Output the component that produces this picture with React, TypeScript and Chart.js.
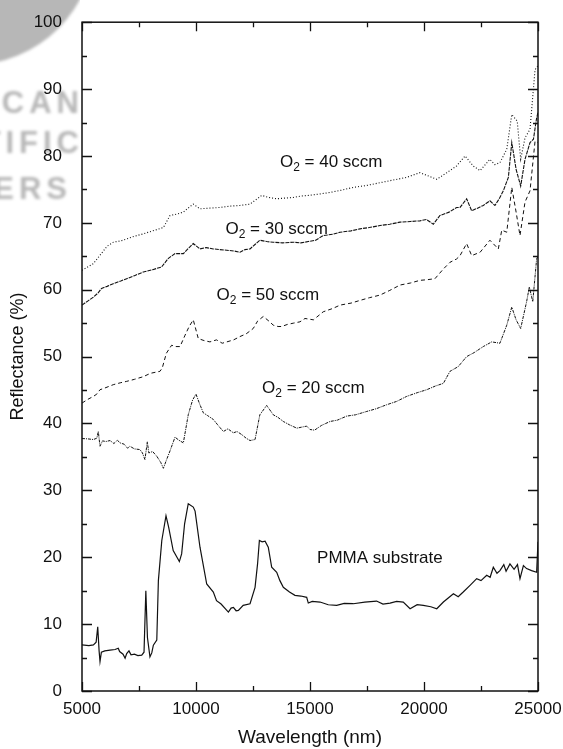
import React, { useEffect, useRef } from "react";
import { Chart, registerables } from "chart.js";

Chart.register(...registerables);

const FONT = "'Liberation Sans', Arial, Helvetica, sans-serif";

// Axis ticks
const xTickValues = [5000, 10000, 15000, 20000, 25000];
const yTickValues = [0, 10, 20, 30, 40, 50, 60, 70, 80, 90, 100];

// PMMA substrate
const wlPmma = [5000, 5300, 5500, 5620, 5690, 5750, 5790, 5850, 6000, 6230, 6450, 6590, 6650, 6800, 6890, 6960, 7060, 7150, 7300, 7450, 7620, 7720, 7800, 7870, 7980, 8060, 8130, 8280, 8350, 8500, 8684, 8800, 9000, 9270, 9370, 9500, 9660, 9880, 9960, 10175, 10470, 10760, 10900, 11100, 11420, 11540, 11640, 11760, 11860, 12070, 12370, 12590, 12700, 12780, 12900, 13030, 13170, 13320, 13540, 13680, 13830, 14100, 14340, 14600, 14855, 14925, 15100, 15440, 15800, 16170, 16500, 16900, 17400, 17920, 18200, 18510, 18800, 19090, 19390, 19700, 19970, 20300, 20560, 20850, 21290, 21500, 21720, 22020, 22310, 22500, 22750, 22900, 23040, 23200, 23330, 23500, 23600, 23770, 23950, 24100, 24210, 24360, 24500, 24720, 24940, 25000];
const rPmma = [6.9, 6.8, 6.9, 7.3, 9.6, 6.0, 4.4, 5.8, 6.0, 6.1, 6.2, 6.4, 5.9, 5.5, 4.9, 5.6, 6.0, 5.4, 5.5, 5.3, 5.35, 5.8, 15.0, 8.0, 5.1, 5.7, 6.85, 7.6, 16.5, 22.5, 26.2, 24.5, 21.0, 19.35, 20.5, 25.0, 28.0, 27.5, 26.9, 21.5, 16.0, 14.8, 13.5, 13.0, 11.8, 12.4, 12.5, 12.0, 12.05, 12.8, 13.05, 15.5, 19.0, 22.5, 22.3, 22.4, 21.5, 18.5, 17.75, 16.5, 15.5, 14.8, 14.3, 14.2, 14.0, 13.15, 13.4, 13.3, 12.9, 12.8, 13.1, 13.05, 13.3, 13.45, 13.0, 13.15, 13.4, 13.3, 12.3, 12.9, 12.8, 12.6, 12.3, 13.3, 14.55, 14.1, 14.8, 15.8, 16.8, 16.5, 17.3, 17.0, 18.5, 17.6, 18.0, 18.9, 17.9, 19.0, 18.2, 18.9, 16.8, 18.75, 18.3, 18.0, 17.75, 22.3];

// O2 = 20 sccm
const wl20 = [5000, 5250, 5500, 5650, 5715, 5790, 5900, 6050, 6230, 6400, 6550, 6670, 6850, 7000, 7100, 7300, 7540, 7650, 7760, 7865, 7930, 8100, 8280, 8450, 8570, 8700, 8860, 9080, 9250, 9445, 9660, 9850, 10000, 10150, 10320, 10500, 10760, 10950, 11200, 11400, 11640, 11800, 12000, 12200, 12370, 12590, 12800, 13100, 13390, 13600, 13830, 14100, 14420, 14700, 14855, 15000, 15200, 15500, 15880, 16200, 16610, 17000, 17490, 17900, 18360, 18800, 19240, 19700, 20120, 20500, 20850, 21140, 21500, 21870, 22200, 22600, 22970, 23330, 23630, 23850, 24040, 24240, 24500, 24620, 24770, 24940, 25000];
const r20 = [37.75, 37.7, 37.6, 37.8, 38.8, 36.6, 37.4, 37.3, 37.45, 37.0, 37.5, 37.1, 36.9, 36.3, 36.6, 36.2, 36.1, 35.6, 34.6, 37.25, 35.6, 35.8, 35.1, 34.2, 33.3, 34.5, 35.9, 37.95, 37.5, 37.1, 41.3, 43.5, 44.4, 43.0, 41.6, 41.2, 40.6, 39.8, 38.8, 39.2, 38.6, 38.8, 38.35, 37.8, 37.45, 37.6, 41.3, 42.7, 41.3, 40.9, 40.3, 39.8, 39.3, 39.5, 39.6, 39.1, 39.0, 39.7, 40.3, 40.5, 41.1, 41.3, 41.8, 42.2, 42.8, 43.3, 44.05, 44.6, 45.05, 45.6, 46.0, 47.8, 48.5, 50.0, 50.6, 51.5, 52.2, 52.0, 54.7, 57.4, 55.5, 54.2, 58.2, 60.4, 58.2, 64.6, 65.0];

// O2 = 50 sccm
const wl50 = [5000, 5250, 5500, 5650, 5790, 6000, 6370, 6700, 6960, 7300, 7690, 8000, 8420, 8520, 8700, 8930, 9100, 9300, 9520, 9700, 9880, 10100, 10350, 10610, 10900, 11150, 11350, 11650, 11930, 12200, 12510, 12700, 12950, 13200, 13390, 13600, 13760, 14000, 14270, 14560, 14780, 15150, 15580, 16000, 16320, 16800, 17190, 17600, 18070, 18500, 18950, 19400, 19820, 20150, 20480, 20850, 21140, 21430, 21580, 21870, 22090, 22460, 22890, 23260, 23410, 23630, 23850, 24040, 24210, 24430, 24650, 24870, 25000];
const r50 = [43.05, 43.6, 44.05, 44.4, 45.05, 45.3, 45.8, 46.1, 46.3, 46.6, 47.0, 47.5, 47.8, 48.3, 50.5, 51.7, 51.5, 51.5, 53.2, 54.5, 55.5, 52.7, 52.4, 52.2, 52.5, 52.0, 52.2, 52.5, 53.0, 53.4, 54.2, 55.3, 56.0, 55.3, 54.7, 54.5, 54.5, 54.8, 55.0, 55.2, 55.7, 55.5, 56.7, 57.2, 57.7, 58.0, 58.4, 58.8, 59.2, 59.9, 60.7, 61.0, 61.4, 61.5, 61.65, 63.1, 64.1, 64.6, 65.1, 66.9, 65.1, 65.6, 67.4, 66.1, 68.9, 68.6, 75.3, 71.6, 68.1, 73.1, 74.8, 82.2, 82.0];

// O2 = 30 sccm
const wl30 = [5000, 5250, 5500, 5700, 5860, 6100, 6370, 6700, 6960, 7300, 7690, 8100, 8490, 8790, 9080, 9445, 9700, 9880, 10175, 10450, 10760, 11050, 11350, 11650, 11930, 12150, 12370, 12600, 12800, 13100, 13390, 13800, 14270, 14600, 14925, 15250, 15580, 16000, 16320, 16800, 17190, 17600, 18070, 18500, 18950, 19400, 19820, 20100, 20410, 20700, 21100, 21430, 21580, 21870, 22090, 22350, 22600, 22890, 23110, 23300, 23480, 23700, 23850, 24040, 24240, 24430, 24650, 24800, 24940, 25000];
const r30 = [57.7, 58.3, 58.9, 59.5, 60.2, 60.5, 60.9, 61.3, 61.65, 62.1, 62.65, 63.0, 63.4, 64.7, 65.4, 65.4, 66.3, 66.9, 66.1, 66.3, 66.1, 66.0, 65.9, 65.8, 65.6, 66.0, 66.1, 66.8, 67.4, 67.2, 67.1, 67.0, 67.1, 67.0, 67.2, 67.4, 68.1, 68.3, 68.6, 68.8, 69.1, 69.3, 69.6, 69.8, 70.1, 70.2, 70.3, 70.5, 69.8, 71.1, 71.6, 72.3, 72.3, 73.6, 71.8, 72.2, 72.6, 73.3, 72.6, 73.6, 74.8, 76.8, 82.0, 78.0, 75.5, 79.5, 82.0, 82.5, 85.7, 86.5];

// O2 = 40 sccm
const wl40 = [5000, 5250, 5500, 5800, 6100, 6370, 6700, 6960, 7300, 7690, 8100, 8570, 8860, 9150, 9445, 9650, 9880, 10175, 10600, 11050, 11500, 11930, 12370, 12880, 13200, 13540, 13900, 14270, 14600, 14925, 15400, 15880, 16400, 16900, 17500, 18070, 18650, 19240, 19820, 20200, 20560, 21000, 21430, 21800, 22160, 22460, 22890, 23100, 23330, 23630, 23850, 24090, 24240, 24430, 24650, 24870, 25000];
const r40 = [62.9, 63.4, 63.9, 65.2, 66.5, 67.1, 67.3, 67.6, 68.0, 68.35, 68.8, 69.3, 71.1, 71.3, 71.6, 72.2, 72.8, 72.1, 72.2, 72.3, 72.5, 72.6, 72.8, 74.1, 73.8, 73.6, 73.7, 73.8, 74.0, 74.1, 74.3, 74.55, 74.9, 75.3, 75.6, 76.0, 76.4, 76.8, 77.5, 77.0, 76.5, 77.5, 78.5, 80.0, 78.5, 77.8, 79.5, 78.7, 79.0, 81.0, 86.2, 85.2, 79.5, 82.7, 84.0, 92.9, 93.5];

// Curve labels ("|" marks the subscript part), anchored in data coordinates
const labelTexts = ["O|2| = 40 sccm", "O|2| = 30 sccm", "O|2| = 50 sccm", "O|2| = 20 sccm", "PMMA substrate"];
const labelX = [13680, 11290, 10900, 12895, 15310];
const labelY = [78.3, 68.3, 58.5, 44.5, 19.2];

// Faint publisher watermark in the top-left corner
const watermarkRows = ["AMERICAN", "SCIENTIFIC", "PUBLISHERS"];

const pts = (xs: number[], ys: number[]) => xs.map((x, i) => ({ x, y: ys[i] }));

const framePlugin = {
  id: "frame",
  afterDatasetsDraw(chart: any) {
    const { ctx, chartArea: a, scales } = chart;
    const xs = scales.x;
    const ys = scales.y;
    ctx.save();
    ctx.strokeStyle = "#111";
    ctx.lineWidth = 1.5;
    ctx.strokeRect(a.left, a.top, a.right - a.left, a.bottom - a.top);
    ctx.lineWidth = 1.3;
    ctx.beginPath();
    for (let v = 5000; v <= 25000; v += 2500) {
      const major = v % 5000 === 0;
      const len = major ? 9 : 5;
      const px = Math.round(xs.getPixelForValue(v)) + 0.5;
      ctx.moveTo(px, a.bottom);
      ctx.lineTo(px, a.bottom - len);
      ctx.moveTo(px, a.top);
      ctx.lineTo(px, a.top + len);
    }
    for (let v = 0; v <= 100; v += 5) {
      const major = v % 10 === 0;
      const len = major ? 10 : 5;
      const py = Math.round(ys.getPixelForValue(v)) + 0.5;
      ctx.moveTo(a.left, py);
      ctx.lineTo(a.left + len, py);
      ctx.moveTo(a.right, py);
      ctx.lineTo(a.right - len, py);
    }
    ctx.stroke();
    ctx.restore();
  },
};

const labelPlugin = {
  id: "curveLabels",
  afterDatasetsDraw(chart: any) {
    const { ctx, scales } = chart;
    ctx.save();
    ctx.fillStyle = "#111";
    ctx.textBaseline = "alphabetic";
    ctx.textAlign = "left";
    labelTexts.forEach((t, i) => {
      let x = scales.x.getPixelForValue(labelX[i]);
      const y = scales.y.getPixelForValue(labelY[i]);
      const parts = t.split("|");
      parts.forEach((p, k) => {
        const sub = k === 1;
        ctx.font = `${sub ? 12 : 17}px ${FONT}`;
        ctx.fillText(p, x, sub ? y + 4 : y);
        x += ctx.measureText(p).width;
      });
    });
    ctx.restore();
  },
};

const watermarkPlugin = {
  id: "watermark",
  beforeDraw(chart: any) {
    const ctx = chart.ctx;
    ctx.save();
    ctx.beginPath();
    ctx.rect(0, 0, 80, 210);
    ctx.clip();
    ctx.filter = "blur(1.6px)";
    ctx.fillStyle = "rgba(165,165,165,0.8)";
    ctx.beginPath();
    ctx.arc(-30, -60, 125, 0, Math.PI * 2);
    ctx.fill();
    ctx.fillStyle = "rgba(160,160,160,0.75)";
    ctx.font = `bold 31px ${FONT}`;
    try {
      (ctx as any).letterSpacing = "5px";
    } catch (e) {}
    ctx.textAlign = "right";
    ctx.textBaseline = "alphabetic";
    ctx.fillText(watermarkRows[0], 84, 113);
    ctx.fillText(watermarkRows[1], 84, 153);
    ctx.fillText(watermarkRows[2], 72, 199);
    ctx.restore();
  },
};

export default function App() {
  const ref = useRef<HTMLCanvasElement>(null);
  useEffect(() => {
    const canvas = ref.current;
    if (!canvas) return;
    const line = (data: any, dash: number[], width: number) => ({
      data,
      borderColor: "#111",
      borderWidth: width,
      borderDash: dash,
      pointRadius: 0,
      fill: false,
      tension: 0,
    });
    const chart = new Chart(canvas, {
      type: "line",
      data: {
        datasets: [
          line(pts(wlPmma, rPmma), [], 1.2),
          line(pts(wl20, r20), [3, 1, 1, 1], 1.0),
          line(pts(wl50, r50), [4, 3], 1.0),
          line(pts(wl30, r30), [4, 1], 1.1),
          line(pts(wl40, r40), [1, 2], 1.1),
        ] as any,
      },
      options: {
        responsive: false,
        animation: false,
        layout: { padding: { left: 7, right: 25, top: 19, bottom: 0 } },
        plugins: { legend: { display: false }, tooltip: { enabled: false } },
        scales: {
          x: {
            type: "linear",
            min: 5000,
            max: 25000,
            afterBuildTicks: (s: any) => {
              s.ticks = xTickValues.map((v) => ({ value: v }));
            },
            afterFit: (s: any) => {
              s.height = 58;
            },
            grid: { display: false },
            border: { display: false },
            ticks: {
              color: "#111",
              font: { family: FONT, size: 17 },
              padding: 0,
              maxRotation: 0,
              autoSkip: false,
              callback: (v: any) => String(v),
            },
            title: {
              display: true,
              text: "Wavelength (nm)",
              color: "#111",
              font: { family: FONT, size: 19 },
              padding: 0,
            },
          },
          y: {
            type: "linear",
            min: 0,
            max: 100,
            afterBuildTicks: (s: any) => {
              s.ticks = yTickValues.map((v) => ({ value: v }));
            },
            afterFit: (s: any) => {
              s.width = 75;
            },
            grid: { display: false },
            border: { display: false },
            ticks: {
              color: "#111",
              font: { family: FONT, size: 17 },
              padding: 12,
              autoSkip: false,
              callback: (v: any) => String(v),
            },
            title: {
              display: true,
              text: "Reflectance (%)",
              color: "#111",
              font: { family: FONT, size: 18 },
              padding: 0,
            },
          },
        },
      } as any,
      plugins: [watermarkPlugin, framePlugin, labelPlugin],
    });
    return () => chart.destroy();
  }, []);
  return (
    <div style={{ position: "fixed", left: 0, top: 0, width: 563, height: 749, background: "#fff" }}>
      <canvas ref={ref} width={563} height={749} style={{ display: "block" }} />
    </div>
  );
}
